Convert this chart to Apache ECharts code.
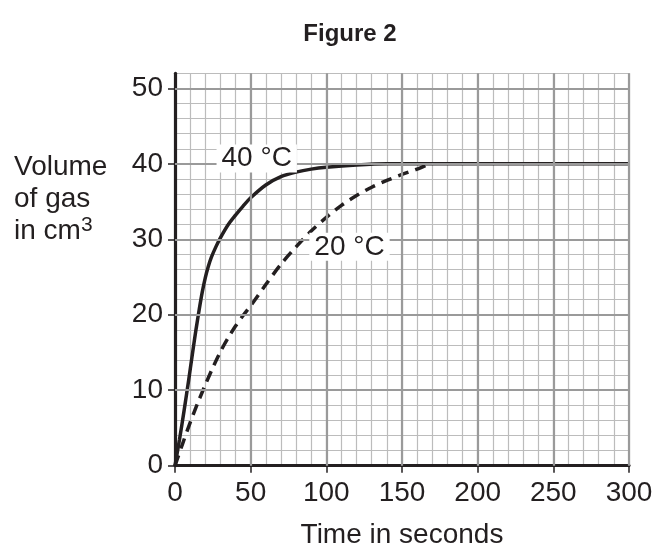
<!DOCTYPE html>
<html><head><meta charset="utf-8">
<script src="https://cdn.jsdelivr.net/npm/echarts@6/dist/echarts.min.js"></script>
<style>html,body{margin:0;padding:0;background:#fff}#c{width:656px;height:550px}</style>
</head><body><div id="c"></div>
<script>
// ---- data ----
const xTickValues = [0, 50, 100, 150, 200, 250, 300];
const yTickValues = [0, 10, 20, 30, 40, 50];
const curve40C = [[0,0],[3,3.5],[6,7.3],[9,11.3],[12,15.5],[14,18.2],[16,20.7],[18,23],[20,24.9],[22,26.4],[24,27.6],[27,29],[30,30.2],[35,31.9],[40,33.2],[45,34.4],[50,35.5],[60,37.2],[70,38.3],[80,38.9],[90,39.3],[100,39.55],[120,39.85],[140,40],[160,40],[300,40]];
const curve20C = [[0,0],[5,2.9],[10,5.7],[15,8.3],[20,10.7],[25,13],[30,15.1],[35,16.9],[40,18.5],[45,19.9],[50,21.2],[60,24],[70,26.7],[80,29],[90,31.1],[100,32.9],[110,34.5],[120,35.8],[130,36.9],[140,37.8],[150,38.6],[160,39.3],[168,40]];
const curveNames = ['40 °C', '20 °C'];

const INK = '#231f20';
const FONT = '"Liberation Sans", Arial, sans-serif';
const chart = echarts.init(document.getElementById('c'), null, {renderer: 'canvas'});

const labelStyle = {
  show: true, position: 'inside', color: INK, fontSize: 28, fontFamily: FONT,
  textBorderWidth: 0, textBorderColor: 'transparent', textShadowBlur: 0,
  backgroundColor: '#fff', padding: [0, 5], lineHeight: 28
};

function txt(text, x, y, size, weight, align) {
  return {type: 'text', silent: true,
    style: {text: text, x: x, y: y, align: align || 'left', verticalAlign: 'top',
            fill: INK, font: (weight ? weight + ' ' : '') + size + 'px ' + FONT}};
}

chart.setOption({
  animation: false,
  backgroundColor: '#fff',
  grid: {left: 175, right: 27, top: 73.3, bottom: 84.3, containLabel: false, outerBoundsMode: 'none'},
  xAxis: [
    {type: 'value', min: 0, max: 300, interval: 10, position: 'bottom',
     axisLine: {show: false}, axisTick: {show: false}, axisLabel: {show: false},
     splitLine: {show: true, lineStyle: {color: '#bcbcbc', width: 1.2}}},
    {type: 'value', min: 0, max: 300, interval: 50, position: 'bottom',
     axisLine: {show: true, lineStyle: {color: INK, width: 3.2}},
     axisTick: {show: true, length: 7, lineStyle: {color: INK, width: 1.5}, customValues: xTickValues},
     axisLabel: {show: true, color: INK, fontSize: 28, fontFamily: FONT, margin: 14, customValues: xTickValues},
     splitLine: {show: false},
     name: 'Time in seconds', nameLocation: 'middle', nameGap: 56,
     nameTextStyle: {color: INK, fontSize: 28, fontFamily: FONT}}
  ],
  yAxis: [
    {type: 'value', min: 0, max: 52, interval: 2, position: 'left',
     axisLine: {show: false}, axisTick: {show: false}, axisLabel: {show: false},
     splitLine: {show: true, lineStyle: {color: '#bcbcbc', width: 1.2}}},
    {type: 'value', min: 0, max: 52, interval: 10, position: 'left',
     axisLine: {show: true, lineStyle: {color: INK, width: 3.2}},
     axisTick: {show: true, length: 7, lineStyle: {color: INK, width: 1.5}, customValues: yTickValues},
     axisLabel: {show: true, color: INK, fontSize: 28, fontFamily: FONT, margin: 12, customValues: yTickValues},
     splitLine: {show: false}}
  ],
  graphic: [
    txt('Figure 2', 350, 22, 24, 'bold', 'center'),
    txt('Volume', 14, 153, 28),
    txt('of gas', 14, 185, 28),
    txt('in cm', 14, 217, 28),
    txt('3', 81, 215, 21)
  ],
  series: [
    {type: 'line', xAxisIndex: 1, yAxisIndex: 1, data: [], z: 1, silent: true,
     markLine: {silent: true, symbol: ['none', 'none'], label: {show: false},
       lineStyle: {color: '#9a9a9a', width: 2.2, type: 'solid'},
       data: xTickValues.slice(1).map(v => ({xAxis: v})).concat(yTickValues.slice(1).map(v => ({yAxis: v})))}},
    {type: 'line', name: curveNames[1], xAxisIndex: 1, yAxisIndex: 1, data: curve20C, showSymbol: false, smooth: 0.3, z: 3,
     lineStyle: {color: INK, width: 3.5, type: [11, 7]}},
    {type: 'line', name: curveNames[0], xAxisIndex: 1, yAxisIndex: 1, data: curve40C, showSymbol: false, smooth: 0.3, z: 4,
     lineStyle: {color: INK, width: 3.5, type: 'solid'}},
    {type: 'scatter', xAxisIndex: 1, yAxisIndex: 1, z: 6, symbolSize: 1, silent: true,
     itemStyle: {color: '#fff', opacity: 1},
     data: [{value: [54, 40.7], label: Object.assign({}, labelStyle, {formatter: curveNames[0]})},
            {value: [115.3, 29.0], label: Object.assign({}, labelStyle, {formatter: curveNames[1]})}]}
  ]
});
</script>
</body></html>
